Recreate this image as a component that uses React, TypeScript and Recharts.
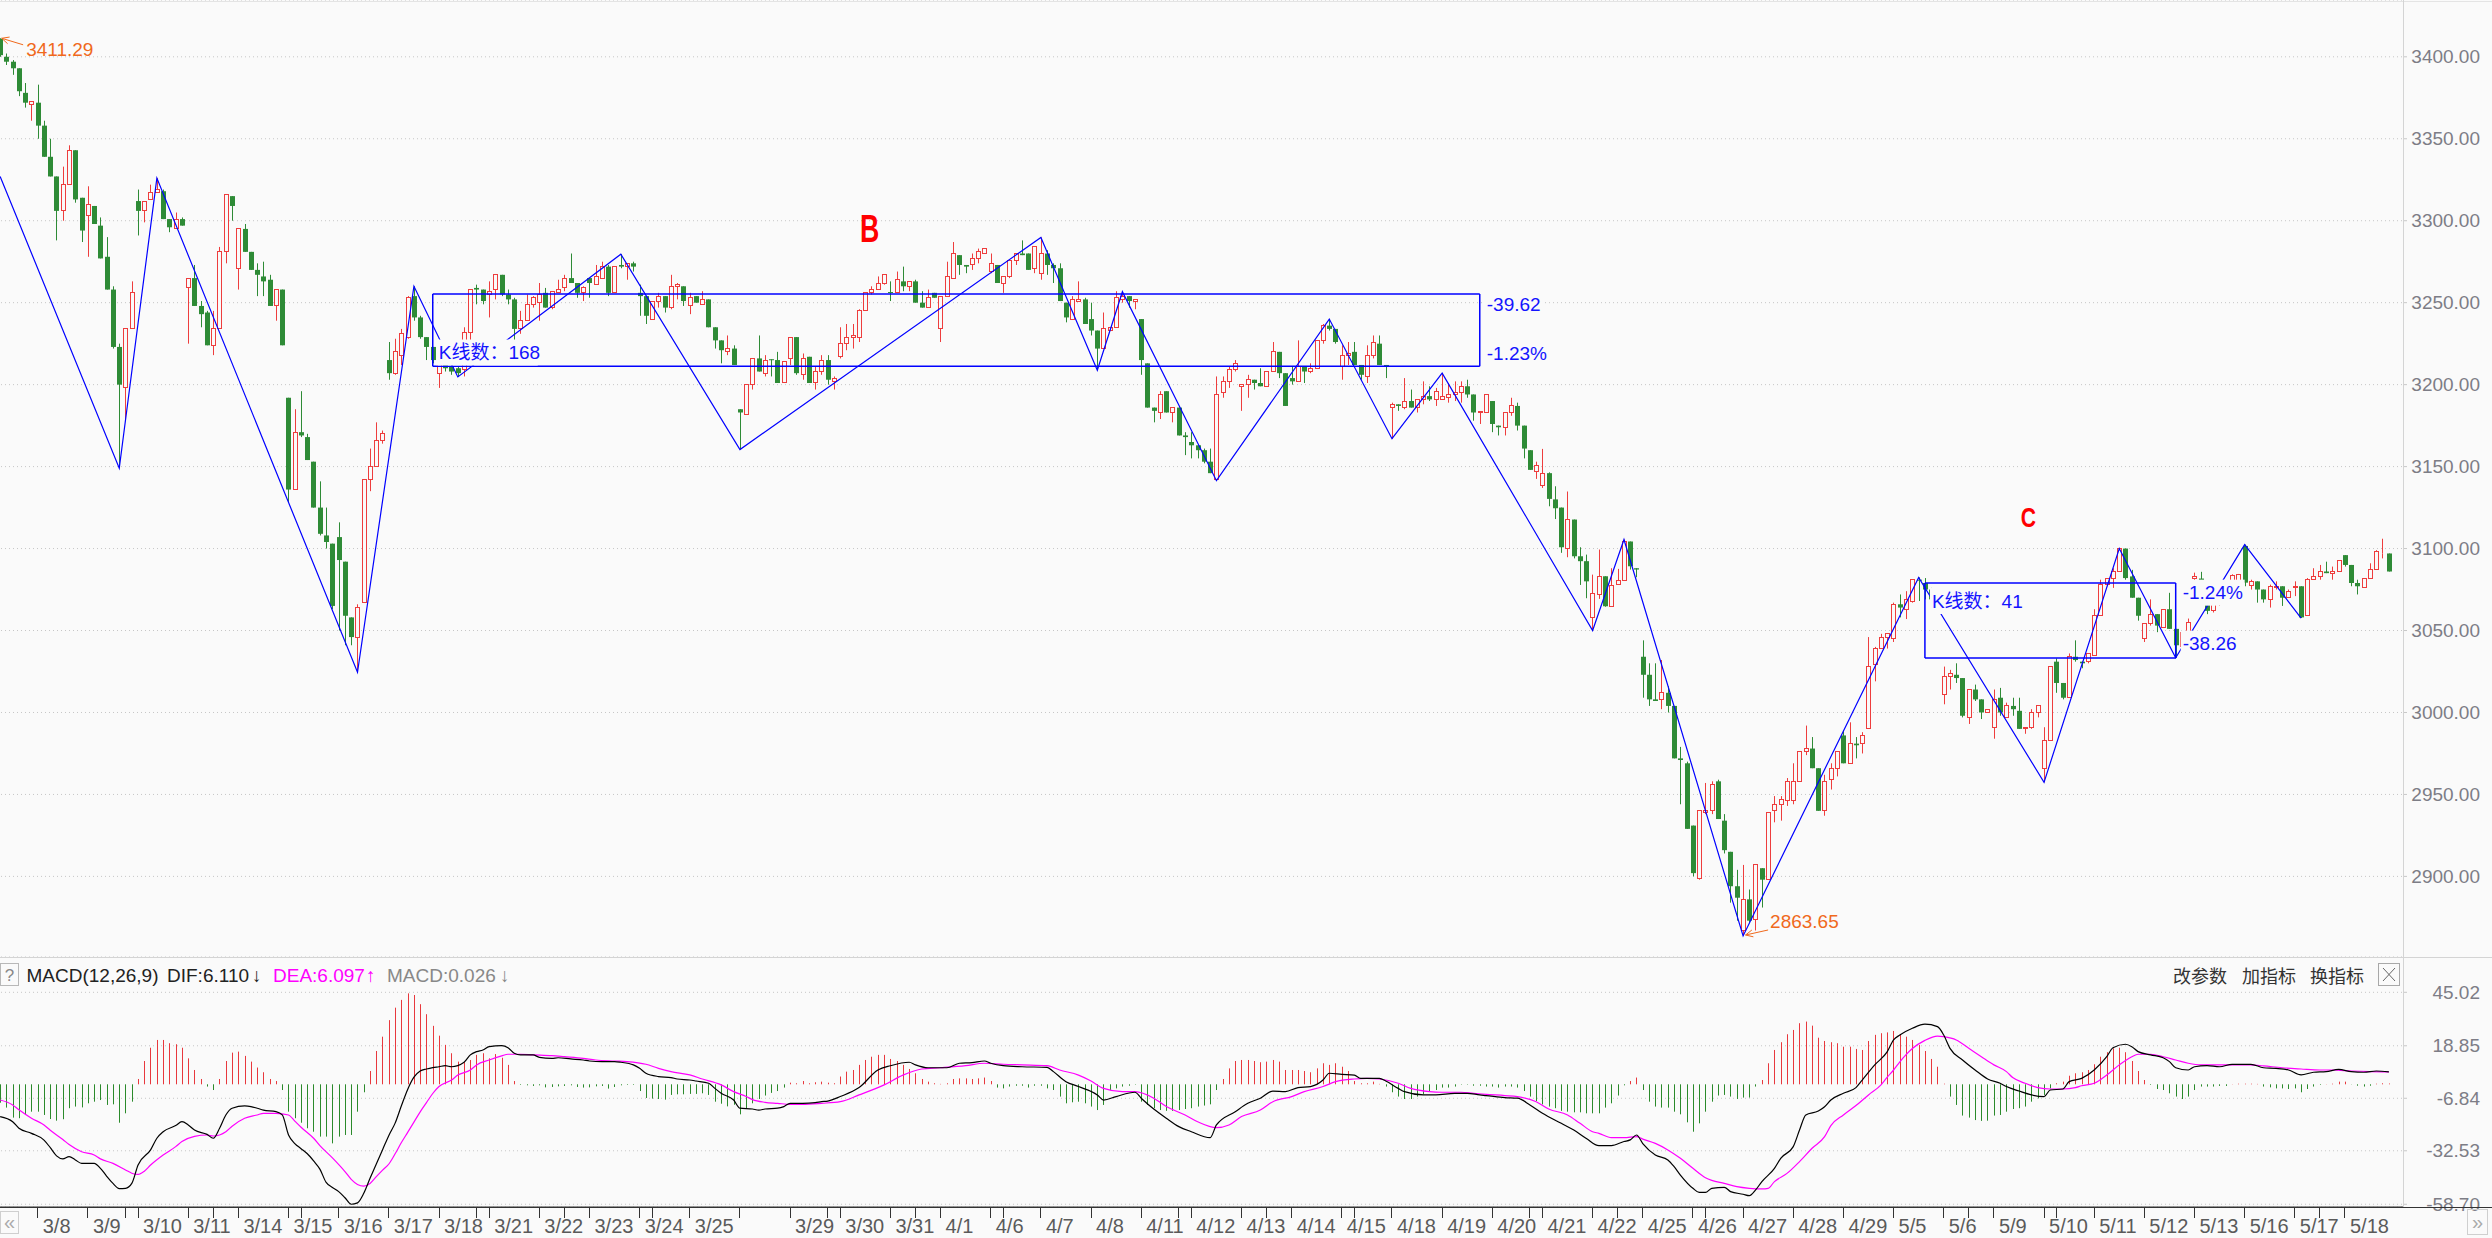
import React from 'react'
import {
  ComposedChart,
  Bar,
  Line,
  XAxis,
  YAxis,
  CartesianGrid,
  ReferenceLine,
  ReferenceDot,
} from 'recharts'

const W = 2495
const AXIS_W = 89
const PAD_R = 11
const BG = '#fafafa'
const UP = '#ee3d3d'
const DOWN = '#2e8b36'
const BLUE = '#0000ff'
const ORANGE = '#f0691c'
const FONT = '"Liberation Sans", Arial, "Noto Sans CJK SC", sans-serif'
const CJK = '"Noto Sans CJK SC", "Liberation Sans", sans-serif'

// 30 minute bars, 8 per day (only the last 6 bars of 3/7 are on screen)
const days = [
  '3/7', '3/8', '3/9', '3/10', '3/11', '3/14', '3/15', '3/16', '3/17', '3/18',
  '3/21', '3/22', '3/23', '3/24', '3/25', '3/28', '3/29', '3/30', '3/31', '4/1',
  '4/6', '4/7', '4/8', '4/11', '4/12', '4/13', '4/14', '4/15', '4/18', '4/19',
  '4/20', '4/21', '4/22', '4/25', '4/26', '4/27', '4/28', '4/29', '5/5', '5/6',
  '5/9', '5/10', '5/11', '5/12', '5/13', '5/16', '5/17', '5/18',
]
const hiddenDayLabels = ['3/28']
const minorTicks = [20, 34, 48, 76, 90, 104, 132, 146, 160, 188, 202, 216, 244, 258, 272, 314, 328, 370]

const opens = [
  3411, 3400, 3397, 3393, 3378, 3371,
  3372, 3358, 3339, 3327, 3306, 3322, 3343, 3314,
  3303, 3309, 3297, 3278, 3258, 3223, 3198, 3234,
  3312, 3306, 3313, 3317, 3318, 3301, 3295, 3301,
  3259, 3265, 3248, 3244, 3224, 3234, 3281, 3315,
  3271, 3295, 3281, 3270, 3266, 3264, 3248, 3258,
  3192, 3136, 3171, 3168, 3153, 3125, 3108, 3103,
  3107, 3092, 3058, 3046, 3067, 3142, 3150, 3166,
  3215, 3207, 3218, 3229, 3254, 3241, 3229, 3223,
  3207, 3216, 3211, 3210, 3209, 3232, 3259, 3258,
  3255, 3258, 3267, 3255, 3252, 3234, 3239, 3249,
  3250, 3256, 3247, 3256, 3259, 3265, 3262, 3256,
  3265, 3261, 3265, 3272, 3256, 3273, 3272, 3274,
  3256, 3254, 3240, 3251, 3254, 3247, 3260, 3260,
  3248, 3254, 3249, 3252, 3235, 3227, 3220, 3222,
  3185, 3182, 3200, 3216, 3207, 3215.5, 3215, 3201,
  3216, 3229, 3206, 3217, 3201, 3208, 3215, 3202,
  3217, 3225, 3229, 3229, 3245, 3256, 3258, 3262,
  3256.5, 3256, 3263, 3260, 3263, 3250, 3247, 3256,
  3234, 3254, 3265, 3279, 3273, 3273, 3277, 3280,
  3269, 3273, 3262, 3266, 3276, 3280, 3280, 3271,
  3268, 3280, 3273, 3271, 3250, 3240, 3251, 3252,
  3240, 3233, 3222, 3233, 3235, 3252, 3254, 3251,
  3240, 3213, 3186, 3183, 3196, 3183, 3186, 3169,
  3165, 3163, 3160, 3153, 3142, 3195, 3202, 3209,
  3199, 3200, 3203, 3201, 3199, 3208, 3220, 3207,
  3204, 3202, 3211, 3208, 3210, 3227, 3236, 3234,
  3211, 3218, 3220, 3212, 3205, 3218, 3225, 3212,
  3186, 3188, 3186, 3190, 3186, 3191, 3193, 3191,
  3191, 3192, 3194, 3195, 3199, 3194, 3183, 3183,
  3190, 3175, 3174, 3183, 3187, 3175, 3160, 3147,
  3138.4, 3146, 3130, 3125, 3099.8, 3117.7, 3095.3, 3092.3,
  3057.7, 3071.7, 3083.1, 3064.8, 3077.8, 3080.5, 3104.3, 3088,
  3034, 3023, 3008, 3008, 3012, 3004, 2972, 2969,
  2931, 2899, 2939, 2940, 2958, 2934, 2915, 2894,
  2867, 2886, 2874, 2905, 2898, 2940, 2944, 2946,
  2946, 2958, 2976, 2978, 2966, 2940, 2959, 2966,
  2986, 2969, 2981, 2981, 2990, 3029, 3039, 3046,
  3045, 3066, 3063, 3068, 3081, 3079, 3075, 3069,
  3011, 3022, 3023, 3021, 2997, 3014, 3008, 3000,
  2991, 3009, 2997, 3004, 3001, 2990, 2991, 3000,
  2966, 2983, 3031, 3018, 3009, 3034, 3031, 3031,
  3035, 3059, 3078, 3082, 3086, 3100, 3083, 3070,
  3045, 3054, 3060, 3052, 3063, 3051, 3040, 3048.3,
  3081.7, 3081.7, 3066, 3062, 3066, 3072, 3078.8, 3079,
  3101.6, 3077.7, 3080, 3075, 3069, 3076, 3077, 3070,
  3076, 3077, 3059, 3081, 3083, 3086, 3085, 3086,
  3096, 3090, 3079, 3076, 3082, 3087, 3097, 3097,
]

const highs = [
  3411.29, 3402, 3398, 3393, 3384, 3373,
  3383, 3361, 3350, 3327, 3333, 3346, 3343, 3314,
  3321, 3309, 3302, 3290, 3260, 3225, 3234, 3263,
  3319, 3312, 3322, 3326, 3319, 3301, 3305, 3302,
  3265, 3273, 3251, 3245, 3245, 3284, 3316, 3315,
  3295, 3298, 3281, 3274, 3275, 3267, 3258, 3258,
  3192, 3185, 3196, 3170, 3153, 3141, 3125, 3103,
  3116, 3092, 3058, 3066, 3142, 3161, 3177, 3172,
  3226, 3228, 3234, 3254, 3260, 3242, 3229, 3223,
  3219, 3217, 3213, 3211, 3235, 3258, 3261, 3258,
  3263, 3267, 3267, 3258, 3253, 3245, 3255, 3254,
  3262, 3259, 3257, 3264, 3267, 3280, 3262, 3260,
  3265, 3273, 3275, 3273, 3272, 3279.6, 3274, 3275,
  3261, 3254, 3251, 3256, 3254, 3267, 3262, 3260,
  3256, 3254, 3257, 3252, 3235, 3227, 3230, 3224,
  3185, 3200, 3216, 3230, 3218, 3215.5, 3220, 3214,
  3229, 3229, 3219, 3217, 3211, 3218, 3218, 3205,
  3235, 3237, 3237, 3246, 3256, 3260, 3266, 3267,
  3263, 3269, 3272, 3263, 3264, 3257, 3258, 3256,
  3254, 3275, 3287, 3279, 3273, 3280, 3283, 3283,
  3280, 3273, 3266, 3276, 3280, 3288, 3280, 3284,
  3289.8, 3282, 3274, 3274, 3250, 3254, 3263, 3253,
  3250, 3233, 3244, 3235, 3257, 3256.7, 3254, 3252,
  3240, 3213, 3186, 3196, 3196, 3186, 3186, 3171,
  3171, 3163, 3161, 3161, 3205, 3205, 3211, 3215,
  3200, 3206, 3203, 3210, 3208, 3226, 3220, 3207,
  3211, 3227, 3211, 3213, 3227, 3237, 3240, 3234,
  3224, 3226, 3226, 3212, 3224, 3230, 3230, 3212,
  3189, 3188, 3204, 3197, 3191, 3202, 3199, 3198,
  3207, 3201, 3202, 3202, 3203, 3194, 3183.5, 3194,
  3190, 3175, 3183, 3192, 3189, 3175, 3160, 3153,
  3160.8, 3146.5, 3138, 3125, 3134.8, 3117.7, 3100.8, 3096.3,
  3084.1, 3099.4, 3083.1, 3088, 3087.6, 3105.5, 3104.3, 3088,
  3044, 3030, 3030, 3032, 3016, 3004, 2979, 2970,
  2931, 2940, 2957, 2958, 2959, 2938, 2915, 2904,
  2907, 2892, 2907, 2905, 2939, 2949, 2949, 2960,
  2969, 2976, 2992, 2985, 2966, 2962, 2969, 2976,
  2989, 2994, 2985, 2988, 3046, 3040, 3048, 3048,
  3067, 3072, 3074, 3081, 3082.4, 3082, 3076, 3071,
  3028, 3026, 3030, 3021, 3014, 3017, 3008, 3002,
  3014, 3015, 3006, 3009, 3009, 2991, 3002, 3004,
  2991, 3028, 3033, 3018, 3036, 3044, 3031, 3036,
  3063, 3081, 3082, 3088, 3100, 3100, 3087, 3070,
  3054, 3069, 3060, 3063, 3073, 3051, 3049, 3057.3,
  3085.3, 3085.8, 3068, 3068, 3074, 3078, 3084.3, 3084.5,
  3102.4, 3081, 3080, 3075, 3078, 3080, 3077, 3075,
  3080, 3077, 3082, 3088, 3090, 3092, 3089, 3093,
  3096, 3090, 3081, 3082, 3091, 3099, 3106, 3097,
]

const lows = [
  3400, 3395, 3389, 3376, 3369, 3361,
  3350, 3339, 3327, 3288, 3300, 3322, 3311, 3287,
  3278, 3298, 3277, 3258, 3222, 3149, 3178, 3234,
  3291, 3299, 3313, 3317, 3301, 3293, 3295, 3297,
  3225, 3248, 3235, 3224, 3218, 3234, 3274, 3300,
  3258, 3281, 3270, 3254, 3254, 3248, 3239, 3224,
  3128, 3136, 3168, 3154, 3125, 3108, 3100, 3063,
  3050, 3041, 3041, 3024.5, 3067, 3135, 3150, 3164,
  3203, 3206, 3212, 3228, 3239, 3228, 3215, 3213,
  3198, 3208, 3206, 3204.7, 3205, 3227, 3249, 3249,
  3241, 3252, 3254, 3249, 3227, 3231, 3239, 3247,
  3239, 3247, 3246, 3256, 3257, 3262, 3253, 3251,
  3253, 3261, 3265, 3254, 3256, 3271, 3264, 3269,
  3242, 3237, 3240, 3247, 3244, 3246, 3252, 3248,
  3243, 3250, 3249, 3235, 3222, 3213, 3218, 3212,
  3160.4, 3182, 3197, 3208, 3205, 3205, 3201, 3201,
  3212, 3206, 3203, 3201, 3197, 3206, 3200, 3197,
  3216, 3221, 3222, 3226, 3245, 3255, 3258, 3261,
  3251, 3256, 3257, 3257, 3250, 3247, 3247, 3253,
  3226, 3254, 3265, 3267, 3268, 3270, 3274, 3280,
  3268, 3262, 3256, 3265, 3273, 3279, 3270, 3268,
  3264, 3267, 3262, 3251, 3238, 3240, 3251, 3237,
  3230, 3208.8, 3222, 3233, 3235, 3250, 3247, 3246,
  3206, 3186, 3177, 3179, 3183, 3177, 3169, 3157,
  3155, 3155, 3152, 3146, 3141.4, 3192, 3198, 3208,
  3184, 3192, 3197, 3199, 3199, 3208, 3204, 3187,
  3200, 3202, 3201, 3207, 3210, 3225, 3233, 3225,
  3203, 3212, 3212, 3203, 3201, 3216, 3212, 3204,
  3167, 3184, 3185, 3186, 3183, 3188, 3190, 3187,
  3191, 3189, 3190, 3189, 3192, 3178, 3176, 3183,
  3171, 3169, 3169, 3181, 3172, 3155, 3148, 3142.5,
  3137, 3125.8, 3118, 3097.4, 3094.7, 3094, 3077.8, 3069.7,
  3050, 3069.3, 3064.5, 3064.8, 3077.8, 3080.5, 3087.2, 3082.5,
  3009, 3004, 3007, 3002, 3000, 2972, 2944, 2929,
  2900, 2898, 2938, 2938, 2935, 2914, 2884, 2873,
  2863.65, 2872, 2867, 2881, 2898, 2933, 2934, 2943,
  2944, 2958, 2974, 2966, 2940, 2937, 2953, 2961,
  2969, 2969, 2972, 2975, 2990, 3019, 3039, 3039,
  3043, 3058, 3057, 3067, 3068, 3069, 3066, 3063,
  3005, 3014, 3018, 2997, 2993, 3007, 2996, 3000,
  2984, 2998, 2997, 2998, 2990, 2987, 2990, 2997,
  2957.4, 2983, 3012, 3008, 3009, 3031, 3027, 3030,
  3035, 3059, 3077, 3076, 3086, 3081, 3070, 3056,
  3043, 3053, 3049, 3052, 3051, 3033.4, 3040, 3048,
  3080.3, 3078.8, 3060, 3061, 3065, 3070, 3078.2, 3078,
  3077, 3075, 3067, 3067, 3064, 3075, 3065, 3070,
  3071, 3057.6, 3059, 3081, 3081, 3085, 3081, 3086,
  3089, 3077, 3072, 3076, 3082, 3087, 3094, 3086,
]

const closes = [
  3401, 3397, 3393, 3379, 3372, 3373,
  3358, 3339, 3327, 3306, 3322, 3343, 3313, 3294,
  3310, 3298, 3277, 3258, 3223, 3200, 3234, 3256,
  3306, 3312, 3317, 3319, 3301, 3296, 3301, 3297,
  3265, 3248, 3243, 3224, 3234, 3281, 3316, 3309,
  3295, 3281, 3270, 3267, 3263, 3248, 3258, 3224,
  3136, 3171, 3169, 3154, 3125, 3109, 3104, 3065,
  3093, 3059, 3046, 3064, 3142, 3150, 3166, 3170,
  3207, 3220, 3231, 3253, 3241, 3229, 3223, 3215,
  3218, 3210, 3208, 3207, 3232, 3258, 3258, 3251,
  3257, 3267, 3255, 3252, 3234, 3239, 3249, 3253,
  3255, 3247, 3257, 3258, 3265, 3262, 3256, 3259,
  3262, 3266, 3272, 3256, 3272, 3272, 3274, 3272,
  3254, 3242, 3251, 3254, 3247, 3260, 3261, 3251,
  3253, 3250, 3252, 3235, 3227, 3221, 3222, 3212,
  3183, 3200, 3216, 3208, 3215, 3215, 3201, 3214,
  3229, 3207, 3216, 3201, 3208, 3215, 3203, 3204,
  3225, 3229, 3230, 3245, 3256, 3258, 3262, 3267,
  3256, 3264, 3260, 3263, 3250, 3247, 3253, 3253,
  3254, 3266, 3280, 3273, 3272, 3277, 3281, 3283,
  3274, 3262, 3266, 3276, 3280, 3279, 3270, 3284,
  3280, 3273, 3271, 3251, 3241, 3252, 3252, 3237,
  3233, 3222, 3234, 3235, 3253, 3254, 3251, 3252,
  3215, 3186, 3184, 3194, 3183, 3186, 3169, 3168,
  3163, 3160, 3153, 3146, 3194, 3202, 3209, 3213,
  3200, 3203, 3201, 3199, 3208, 3220, 3207, 3187,
  3202, 3211, 3208, 3210, 3227, 3236, 3234, 3226,
  3218, 3219, 3212, 3206, 3218, 3226, 3212, 3211,
  3188, 3187, 3190, 3186, 3191, 3193, 3191, 3196,
  3193, 3194, 3195, 3199, 3194, 3183, 3183.5, 3194,
  3176, 3174, 3183, 3187, 3175, 3161, 3148, 3150.6,
  3146, 3130.3, 3124.6, 3100.8, 3117.7, 3095.3, 3092.3, 3080,
  3072.8, 3083.1, 3064.8, 3077.4, 3080.5, 3104.3, 3089.2, 3087.2,
  3023, 3008, 3007, 3012, 3004, 2972, 2971, 2929,
  2902, 2940, 2940, 2956, 2935, 2916, 2894, 2887,
  2886, 2873, 2907, 2898, 2939, 2944, 2947, 2958,
  2958, 2976, 2978, 2966, 2940, 2958, 2966, 2976,
  2969, 2981, 2980, 2986, 3028, 3039, 3046, 3048,
  3066, 3064, 3069, 3081, 3080.6, 3075, 3069, 3066,
  3022, 3024, 3021, 2998, 3014, 3008, 3000, 3002,
  3008, 3000, 3004, 3002, 2990, 2991, 3000, 3004,
  2983, 3028, 3018, 3009, 3034, 3032, 3030, 3036,
  3059, 3078, 3082, 3086, 3100, 3082, 3070, 3059,
  3054, 3060, 3053, 3063, 3051, 3041, 3049, 3054.8,
  3082.7, 3078.8, 3062, 3066, 3072, 3077, 3083.7, 3084,
  3079.2, 3079.6, 3075, 3069, 3077, 3077, 3070, 3074,
  3077, 3058, 3081, 3083, 3086, 3085, 3086, 3093,
  3090, 3079, 3077, 3082, 3087, 3098, 3097, 3086,
]

// zigzag pivots: [bar, price]
const zigzag: [number, number][] = [
  [0, 3327], [19, 3149], [25, 3326], [57, 3024.5], [66, 3260], [73, 3204.7],
  [99, 3279.6], [118, 3160.4], [166, 3289.8], [175, 3208.8], [179, 3256.7],
  [194, 3141.4], [212, 3240], [222, 3167], [230, 3207], [254, 3050],
  [259, 3105.5], [278, 2863.65], [306, 3082.4], [326, 2957.4], [338, 3100],
  [347, 3033.4], [358, 3102.4], [367, 3057.6],
]

const boxes = [
  { x1: 69, x2: 236, y1: 3211.2, y2: 3255.3 },
  { x1: 307, x2: 347, y1: 3033.2, y2: 3079 },
]
const boxLabels = [
  { x: 69, y: 3219.6, dx: 6, w: 97, text: 'K线数：168' },
  { x: 236, y: 3248.9, dx: 7, w: 54, text: '-39.62' },
  { x: 236, y: 3219.3, dx: 7, w: 59, text: '-1.23%' },
  { x: 307, y: 3068, dx: 7, w: 90, text: 'K线数：41' },
  { x: 347, y: 3073.1, dx: 7, w: 60, text: '-1.24%' },
  { x: 347, y: 3042, dx: 7, w: 54, text: '-38.26' },
]

const priceTicks = [2900, 2950, 3000, 3050, 3100, 3150, 3200, 3250, 3300, 3350, 3400]
const macdTicks = [-58.7, -32.53, -6.84, 18.85, 45.02]

const macdHist = [
  -9, -11.4, -16.3, -16.6, -15.0, -13.4,
  -13.4, -15.0, -17.0, -17.8, -17.1, -11.7, -10.9, -11.3,
  -9.3, -8.5, -7.7, -10.1, -9.8, -18.8, -14.2, -8.5,
  2.6, 11.4, 17.9, 21.7, 21.7, 20.1, 19.6, 17.9,
  12.7, 7.0, 2.6, -1.1, -2.8, 2.6, 11.4, 15.5,
  16.0, 13.9, 11.1, 8.2, 5.9, 2.6, 1.6, -2.8,
  -13.4, -16.6, -18.8, -21.5, -23.2, -25.6, -25.6, -28.9,
  -25.6, -24.8, -24.8, -13.4, -3.9, 6.5, 16.3, 23.3,
  31.4, 37.5, 41.3, 44.5, 43.7, 39.2, 34.3, 28.6,
  23.8, 19.3, 15.2, 11.1, 10.8, 11.9, 14.4, 15.2,
  12.7, 14.8, 13.0, 9.5, 1.6, -0.3, -0.5, -0.8,
  -0.5, -1.5, -1.3, -1.0, -0.8, -0.5, -1.3, -1.6,
  -1.5, -1.0, -0.8, -2.1, -1.3, -0.5, -0.3, -0.3,
  -3.3, -6.7, -7.0, -7.2, -7.5, -5.2, -4.9, -4.9,
  -4.7, -4.7, -4.4, -5.2, -8.5, -9.5, -10.8, -10.0,
  -14.7, -12.0, -9.3, -7.2, -5.5, -4.2, -3.3, -1.6,
  0.8, 0.5, 1.6, 0.5, 1.0, 1.3, 0.8, 0.5,
  3.8, 6.2, 7.0, 9.5, 11.9, 13.5, 14.4, 14.4,
  12.4, 11.4, 9.5, 7.5, 5.4, 2.6, 1.3, 0.5,
  0.2, 0.5, 2.6, 2.9, 2.9, 2.6, 2.9, 3.3,
  1.6, -1.6, -2.0, -1.1, -0.7, -0.7, -1.6, -0.7,
  -0.7, -2.0, -2.8, -6.0, -9.3, -8.8, -8.5, -9.3,
  -10.9, -12.6, -10.1, -2.8, -2.0, -1.1, -0.7, -0.2,
  -8.5, -10.1, -11.7, -12.6, -13.0, -13.0, -12.6, -12.1,
  -11.7, -10.9, -10.4, -9.8, -2.8, 2.6, 7.8, 11.4,
  11.9, 11.9, 11.4, 10.8, 11.1, 11.9, 11.1, 7.0,
  7.0, 7.0, 6.5, 5.9, 7.8, 10.3, 9.5, 10.3,
  8.6, 6.5, 1.6, 0.5, 0.5, 1.3, 0.2, -1.1,
  -3.9, -6.0, -7.2, -7.2, -6.0, -4.9, -3.6, -2.8,
  -1.6, -1.6, -1.1, -0.2, -0.2, -0.7, -0.7, -1.1,
  -1.1, -1.6, -1.1, -1.1, -1.6, -3.3, -6.0, -8.2,
  -9.8, -10.9, -11.7, -13.0, -13.4, -13.7, -13.7, -14.2,
  -14.2, -14.2, -11.4, -9.3, -5.5, -0.5, 1.6, 3.3,
  -2.8, -8.5, -10.9, -11.4, -11.4, -13.4, -14.7, -18.6,
  -23.2, -19.1, -13.4, -8.5, -5.5, -5.2, -6.0, -7.2,
  -6.5, -6.5, -1.1, 2.1, 10.3, 16.8, 20.6, 24.5,
  26.6, 29.9, 30.7, 28.7, 22.8, 21.2, 20.6, 20.1,
  18.4, 18.4, 17.3, 16.8, 21.2, 24.2, 25.0, 25.4,
  26.1, 24.5, 23.3, 21.7, 19.3, 16.3, 12.4, 8.6,
  0.3, -6.0, -10.1, -15.3, -16.3, -17.5, -17.9, -17.8,
  -15.3, -15.0, -13.4, -12.1, -11.7, -10.9, -8.5, -6.9,
  -5.2, -2.0, 0.5, 1.3, 4.2, 5.4, 5.9, 7.0,
  9.8, 13.5, 15.7, 17.6, 17.9, 15.7, 11.4, 6.5,
  2.1, -0.3, -2.3, -2.8, -4.4, -6.0, -7.2, -6.0,
  -2.8, -1.1, -1.1, -1.1, -0.8, -0.8, 0.1, 0.3,
  0.3, 0.3, 0.2, -1.1, -1.5, -2.0, -2.0, -2.3,
  -2.0, -3.9, -2.3, -1.1, -0.3, 0.1, 0.3, 1.3,
  1.3, -0.1, -0.7, -1.1, -0.7, 0.3, 0.5, 0.4,
]

// DIF / DEA: [bar, value]
const difPoints: [number, number][] = [
  [0, -15.8], [2, -18.3], [3, -21.5], [5, -24], [7, -27.3], [8, -31], [9, -35], [10, -36.5],
  [11, -35.4], [12, -37], [13, -38.7], [15, -38.7], [16, -41.1], [17, -45], [18, -48.5], [19, -51],
  [20, -50.9], [21, -48.5], [22, -39.5], [24, -32.1], [25, -26.4], [26, -23.2], [28, -20.2],
  [29, -18.3], [30, -19.9], [31, -22.4], [33, -24.5], [34, -26.4], [35, -21.5], [36, -15],
  [37, -11.7], [39, -10.6], [40, -10.9], [41, -11.7], [42, -12.6], [44, -13.4], [45, -15],
  [46, -24.8], [47, -29], [48, -31.5], [49, -34], [50, -37.5], [51, -41.5], [52, -48], [53, -50.5],
  [54, -52.5], [55, -55.5], [56, -58.7], [57, -58], [58, -53.3], [59, -46], [60, -39], [61, -32],
  [62, -25], [63, -19], [64, -10.5], [65, -2.5], [66, 3.5], [67, 6.5], [68, 7.5], [69, 8.2],
  [70, 8.6], [71, 9.1], [72, 8.6], [74, 10.8], [75, 14.4], [76, 16], [77, 16.8], [78, 18.4],
  [80, 18.9], [81, 17.9], [82, 15.2], [83, 14.4], [85, 14.4], [86, 13.2], [88, 12.7], [89, 13],
  [91, 12.4], [93, 11.9], [94, 11.4], [96, 11.1], [98, 11.1], [99, 10.8], [101, 9.5], [102, 7.8],
  [103, 5.4], [105, 3.8], [107, 3.3], [108, 2.6], [110, 2.1], [111, 1.6], [113, 0.5], [114, -2],
  [115, -4.4], [117, -7.7], [118, -11.7], [120, -12.1], [121, -12.6], [122, -12.1], [124, -11.7],
  [125, -10.9], [126, -9.3], [128, -9.3], [130, -9], [131, -8.5], [132, -8.2], [134, -6],
  [137, -1.6], [140, 7], [142, 9.1], [145, 10.8], [146, 9.5], [148, 8.1], [151, 8.1], [153, 10.3],
  [155, 10.6], [157, 11.4], [158, 10.3], [160, 9.1], [163, 8.6], [167, 8.3], [168, 6.2], [170, 1.3],
  [172, -1.1], [175, -5.2], [176, -7.7], [178, -6], [181, -3.9], [182, -6.8], [184, -12.1],
  [186, -16.6], [188, -20.7], [190, -23.2], [193, -26.1], [194, -19.9], [197, -13.4], [199, -9.3],
  [201, -6.8], [203, -3.3], [205, -3.6], [207, -1.6], [209, -1.1], [211, 2.1], [212, 5.4],
  [214, 4.9], [216, 4.5], [217, 2.9], [220, 2.9], [221, 1.6], [223, -2], [224, -3.6], [227, -5.2],
  [229, -5.2], [232, -4.4], [234, -4.4], [236, -5.2], [237, -5.5], [240, -6.5], [242, -6.8],
  [244, -10.1], [246, -14.2], [249, -19.1], [251, -22.4], [253, -26.5], [255, -30], [257, -30],
  [259, -28], [260, -27.2], [261, -24.8], [262, -29], [264, -34.6], [266, -37], [267, -40.3],
  [268, -44.4], [270, -50.9], [271, -52.9], [272, -52.9], [273, -50.9], [275, -50.4], [276, -52.5],
  [278, -53.8], [279, -54.5], [280, -51.7], [281, -47.6], [283, -41.1], [284, -36.2], [286, -30.5],
  [287, -22.4], [288, -15], [290, -13.1], [291, -11], [292, -7.7], [294, -4.4], [296, -1.6],
  [297, 2.1], [299, 9.5], [301, 16], [302, 21.7], [303, 24.1], [305, 27.4], [307, 29.4],
  [309, 28.2], [310, 24.1], [311, 17.6], [313, 11.9], [315, 7], [317, 2.6], [319, 0.5],
  [320, -1.1], [322, -3.3], [324, -5.2], [326, -6], [327, -2.8], [329, -2.3], [330, 1.3],
  [332, 2.9], [334, 7], [336, 13.5], [337, 17.9], [339, 19.6], [340, 18.4], [341, 16], [343, 14.4],
  [345, 13], [346, 11.1], [347, 8.1], [349, 7], [350, 8.6], [352, 9.1], [354, 8.6], [356, 9.8],
  [359, 9.8], [361, 8.1], [363, 7.8], [365, 7], [367, 4.6], [369, 5.9], [371, 6.2], [373, 7.3],
  [375, 6.2], [377, 5.9], [379, 6.5], [381, 6.11],
]

const deaPoints: [number, number][] = [
  [0, -7.7], [2, -10.1], [3, -12.5], [5, -16.6], [7, -19.9], [8, -22.5], [10, -27], [11, -29.5],
  [13, -33], [15, -34.6], [16, -36.5], [18, -38.7], [20, -41.9], [21, -43.5], [22, -44.1],
  [23, -42.5], [24, -39.5], [26, -34.6], [28, -30.5], [29, -28], [31, -25.5], [33, -24.8],
  [34, -25.3], [36, -23.2], [37, -20.5], [39, -16.6], [41, -15], [42, -14.2], [44, -14.2],
  [46, -15], [47, -18], [48, -21], [50, -26.4], [51, -30], [53, -36], [55, -42.7], [56, -46.5],
  [57, -49], [58, -49.8], [59, -48.5], [60, -45.2], [61, -42], [62, -39], [63, -34], [64, -28.5],
  [65, -23.5], [66, -18.5], [67, -13.5], [68, -9], [69, -4.5], [70, -1.1], [72, 2.1], [73, 4.5],
  [75, 7], [76, 9.5], [78, 11.9], [80, 13.9], [81, 14.7], [83, 14.7], [85, 14.4], [88, 14],
  [90, 13.5], [93, 12.7], [95, 11.9], [98, 11.4], [100, 11.1], [103, 9.8], [105, 7.8], [107, 6.2],
  [110, 4.6], [112, 2.6], [115, -0.3], [117, -3.6], [119, -6], [120, -7.5], [122, -8.8],
  [124, -9.3], [126, -9.8], [128, -9.8], [131, -9.3], [134, -8.5], [137, -5.2], [141, -0.3],
  [144, 4.5], [147, 7.5], [150, 8.1], [154, 9.1], [157, 10.3], [160, 9.8], [163, 9.5], [167, 9.1],
  [169, 7], [172, 4.5], [174, 1.6], [176, -2], [179, -3.6], [181, -3.6], [184, -6.8], [186, -10.9],
  [189, -15], [191, -18.3], [194, -21.2], [196, -19.9], [198, -15.8], [201, -12.6], [203, -8.5],
  [206, -6], [208, -3.6], [211, -1.1], [213, 1.3], [216, 2.6], [218, 2.9], [220, 2.6], [223, 0.5],
  [225, -2], [228, -3.6], [230, -3.9], [233, -3.9], [235, -4.4], [237, -4.9], [240, -5.5],
  [242, -6], [245, -8.5], [247, -12.1], [250, -15], [252, -19.1], [254, -23.2], [255, -24],
  [257, -26.1], [259, -26.1], [261, -25.6], [262, -26.8], [264, -28.9], [266, -32.1], [268, -36.2],
  [270, -41.1], [272, -45.7], [273, -47], [275, -48.5], [277, -50.1], [279, -50.9], [281, -51.2],
  [282, -50.9], [283, -47.6], [285, -43.6], [287, -37.8], [289, -31.3], [291, -25.6], [292, -20.2],
  [294, -15], [296, -10.4], [298, -5.2], [300, -0.3], [301, 3.5], [302, 7], [303, 11], [304, 14.5],
  [305, 17.5], [307, 21.5], [309, 23.6], [310, 23.3], [312, 21.7], [314, 17.6], [316, 13.5],
  [318, 9.5], [320, 6.2], [321, 3.3], [323, 0.5], [325, -1.6], [327, -2.3], [329, -2.3],
  [331, -1.6], [332, -0.7], [334, 0.5], [336, 4.5], [338, 9.5], [340, 13.5], [341, 14.7],
  [343, 14.7], [345, 13.5], [347, 11.9], [349, 10.3], [351, 9.5], [353, 9.5], [356, 9.5],
  [359, 9.5], [361, 9], [364, 8.1], [367, 7.5], [370, 7], [372, 7], [375, 6.5], [378, 6.2],
  [381, 6.097],
]

// ---- tables built from the arrays above ----
const barDay: string[] = []
const dayStart = new Map<number, string>()
days.forEach((d, k) => {
  const n = k === 0 ? 6 : 8
  if (k > 0) dayStart.set(barDay.length, d)
  for (let j = 0; j < n; j++) barDay.push(d)
})
const xTicks = [...dayStart.keys(), ...minorTicks].sort((a, b) => a - b)

const zigMap = new Map(zigzag)
const difMap = new Map(difPoints)
const deaMap = new Map(deaPoints)

const priceData = barDay.map((day, i) => ({
  i,
  day,
  o: opens[i],
  h: highs[i],
  l: lows[i],
  c: closes[i],
  range: [lows[i], highs[i]],
  zig: zigMap.has(i) ? zigMap.get(i) : null,
}))

const macdData = barDay.map((day, i) => ({
  i,
  day,
  hist: macdHist[i],
  dif: difMap.has(i) ? difMap.get(i) : null,
  dea: deaMap.has(i) ? deaMap.get(i) : null,
}))

const snap = (v: number) => Math.round(v - 0.5) + 0.5

function Candle(props: any) {
  const { x, y, width, height, payload } = props
  if (x == null || y == null || !payload) return null
  const top = Math.min(y, y + height)
  const h = Math.abs(height)
  const { o, c } = payload
  const hi = payload.h
  const lo = payload.l
  const span = hi - lo
  const py = (p: number) => (span > 0 ? top + ((hi - p) / span) * h : top)
  const cx = snap(x + width / 2)
  const bodyTop = py(Math.max(o, c))
  const bodyBot = py(Math.min(o, c))
  if (c >= o) {
    const t = snap(bodyTop)
    const b = Math.max(snap(bodyBot), t)
    return (
      <g>
        {t > top && <line x1={cx} x2={cx} y1={top} y2={t} stroke={UP} />}
        {top + h > b && <line x1={cx} x2={cx} y1={b} y2={top + h} stroke={UP} />}
        <rect x={cx - 2} y={t} width={4} height={b - t} fill={BG} stroke={UP} />
      </g>
    )
  }
  return (
    <g>
      <line x1={cx} x2={cx} y1={top} y2={top + h} stroke={DOWN} />
      <rect x={cx - 2.5} y={bodyTop} width={5} height={Math.max(bodyBot - bodyTop, 1)} fill={DOWN} />
    </g>
  )
}

function HistBar(props: any) {
  const { x, y, width, height, payload } = props
  if (x == null || y == null || !payload) return null
  const cx = snap(x + width / 2)
  return (
    <line
      x1={cx}
      x2={cx}
      y1={y}
      y2={y + height}
      stroke={payload.hist >= 0 ? '#e8383d' : '#2b8a2b'}
    />
  )
}

function RightTick(props: any) {
  const { y, payload } = props
  return (
    <text
      x={W - 12}
      y={y}
      textAnchor="end"
      dominantBaseline="central"
      fontSize={19}
      fontFamily={FONT}
      fill="#7d7d86"
    >
      {Number(payload.value).toFixed(2)}
    </text>
  )
}

function DateTick(props: any) {
  const { x, y, payload } = props
  const label = dayStart.get(payload.value)
  const cx = snap(x)
  return (
    <g>
      <line x1={cx} x2={cx} y1={y} y2={y + 11} stroke="#333" />
      {label && !hiddenDayLabels.includes(label) && (
        <text
          x={x + 5}
          y={y + 19}
          dominantBaseline="central"
          fontSize={20}
          fontFamily={FONT}
          fill="#5a5a5a"
        >
          {label}
        </text>
      )}
    </g>
  )
}

function BoxText(props: any) {
  const { cx, cy, text, dx, w } = props
  if (cx == null || cy == null) return null
  return (
    <g>
      <rect x={cx + dx - 2} y={cy - 13} width={w + 4} height={26} fill={BG} />
      <text
        x={cx + dx}
        y={cy}
        dominantBaseline="central"
        fontSize={19}
        fontFamily={FONT}
        fill="#1414ff"
      >
        {text}
      </text>
    </g>
  )
}

function PeakLabel(props: any) {
  const { cx, cy, text, tip, tail, at } = props
  if (cx == null || cy == null) return null
  const x1 = cx + tip[0]
  const y1 = cy + tip[1]
  const x2 = cx + tail[0]
  const y2 = cy + tail[1]
  const ang = Math.atan2(y2 - y1, x2 - x1)
  const hl = 8
  const a1 = ang + 0.45
  const a2 = ang - 0.45
  return (
    <g stroke={ORANGE} strokeWidth={1}>
      <line x1={x1} y1={y1} x2={x2} y2={y2} />
      <line x1={x1} y1={y1} x2={x1 + hl * Math.cos(a1)} y2={y1 + hl * Math.sin(a1)} />
      <line x1={x1} y1={y1} x2={x1 + hl * Math.cos(a2)} y2={y1 + hl * Math.sin(a2)} />
      <text
        x={cx + at[0]}
        y={cy + at[1]}
        dominantBaseline="central"
        fontSize={19}
        fontFamily={FONT}
        fill={ORANGE}
        stroke="none"
      >
        {text}
      </text>
    </g>
  )
}

function boxSegments() {
  const out: any[] = []
  boxes.forEach((b, k) => {
    const segs = [
      [b.x1, b.y2, b.x2, b.y2],
      [b.x1, b.y1, b.x2, b.y1],
      [b.x1, b.y1, b.x1, b.y2],
      [b.x2, b.y1, b.x2, b.y2],
    ]
    segs.forEach((s, j) => {
      out.push(
        <ReferenceLine
          key={`box-${k}-${j}`}
          segment={[{ x: s[0], y: s[1] }, { x: s[2], y: s[3] }]}
          stroke={BLUE}
          strokeWidth={1.5}
          ifOverflow="visible"
        />
      )
    })
  })
  return out
}

export default function App() {
  return (
    <div
      style={{
        position: 'absolute',
        left: 0,
        top: 0,
        width: 2492,
        height: 1238,
        background: BG,
        overflow: 'hidden',
        fontFamily: FONT,
      }}
    >
      {/* price panel */}
      <div style={{ position: 'absolute', left: -3, top: 0 }}>
        <ComposedChart
          width={W}
          height={957}
          data={priceData}
          margin={{ top: 0, right: 0, bottom: 0, left: 0 }}
        >
          <CartesianGrid vertical={false} stroke="#c6c6c6" strokeDasharray="1 3" />
          <XAxis dataKey="i" type="category" hide padding={{ left: 0, right: PAD_R }} />
          <YAxis
            orientation="right"
            width={AXIS_W}
            domain={[2850.83, 3434.65]}
            ticks={priceTicks}
            interval={0}
            allowDataOverflow
            axisLine={false}
            tickSize={4}
            tickLine={{ stroke: '#c8c8c8' }}
            tick={RightTick}
          />
          <Bar dataKey="range" shape={Candle} barSize={5} isAnimationActive={false} />
          <Line
            dataKey="zig"
            type="linear"
            connectNulls
            stroke={BLUE}
            strokeWidth={1.2}
            dot={false}
            activeDot={false}
            isAnimationActive={false}
          />
          {boxSegments()}
          {boxLabels.map((lb, k) => (
            <ReferenceDot
              key={`lb-${k}`}
              x={lb.x}
              y={lb.y}
              r={0}
              ifOverflow="visible"
              shape={(p: any) => <BoxText cx={p.cx} cy={p.cy} text={lb.text} dx={lb.dx} w={lb.w} />}
            />
          ))}
          <ReferenceDot
            x={0}
            y={3411.29}
            r={0}
            ifOverflow="visible"
            shape={(p: any) => (
              <PeakLabel cx={p.cx} cy={p.cy} text="3411.29" tip={[1.6, 0]} tail={[23, 6.5]} at={[26, 11]} />
            )}
          />
          <ReferenceDot
            x={278}
            y={2863.65}
            r={0}
            ifOverflow="visible"
            shape={(p: any) => (
              <PeakLabel cx={p.cx} cy={p.cy} text="2863.65" tip={[2.5, -1]} tail={[25, -6]} at={[27, -14]} />
            )}
          />
        </ComposedChart>
      </div>

      {/* MACD panel */}
      <div style={{ position: 'absolute', left: -3, top: 958 }}>
        <ComposedChart
          width={W}
          height={280}
          data={macdData}
          margin={{ top: 34.3, right: 0, bottom: 0, left: 0 }}
        >
          <CartesianGrid vertical={false} stroke="#c6c6c6" strokeDasharray="1 3" />
          <XAxis
            dataKey="i"
            type="category"
            padding={{ left: 0, right: PAD_R }}
            height={31}
            ticks={xTicks}
            interval={0}
            tickSize={0}
            tickMargin={0}
            tickLine={false}
            axisLine={{ stroke: '#333' }}
            tick={DateTick}
          />
          <YAxis
            orientation="right"
            width={AXIS_W}
            domain={[-60.04, 45.02]}
            ticks={macdTicks}
            interval={0}
            allowDataOverflow
            axisLine={false}
            tickSize={4}
            tickLine={{ stroke: '#c8c8c8' }}
            tick={RightTick}
          />
          <Bar dataKey="hist" shape={HistBar} barSize={1} isAnimationActive={false} />
          <Line
            dataKey="dea"
            type="monotone"
            connectNulls
            stroke="#ff00ff"
            strokeWidth={1.2}
            dot={false}
            activeDot={false}
            isAnimationActive={false}
          />
          <Line
            dataKey="dif"
            type="monotone"
            connectNulls
            stroke="#000000"
            strokeWidth={1.2}
            dot={false}
            activeDot={false}
            isAnimationActive={false}
          />
        </ComposedChart>
      </div>

      {/* frame, headers and annotations */}
      <svg
        width={2492}
        height={1238}
        style={{ position: 'absolute', left: 0, top: 0, pointerEvents: 'none' }}
        fontFamily={FONT}
      >
        <line x1={0} x2={2492} y1={1.5} y2={1.5} stroke="#e4e4e4" />
        <line x1={0} x2={2492} y1={957.5} y2={957.5} stroke="#d4d4d4" />
        <line x1={2403.5} x2={2403.5} y1={0} y2={1207} stroke="#d4d4d4" />
        <line x1={0} x2={2492} y1={1207.5} y2={1207.5} stroke="#333" />

        <text x={860} y={241.7} fontSize={39} fontWeight="bold" fill="#ff0000" textLength={19.3} lengthAdjust="spacingAndGlyphs">B</text>
        <text x={2020.7} y={526.7} fontSize={28} fontWeight="bold" fill="#ff0000" textLength={15.3} lengthAdjust="spacingAndGlyphs">C</text>

        <rect x={0.5} y={963.5} width={18} height={22} fill="none" stroke="#b8b8b8" />
        <text x={9.5} y={975} textAnchor="middle" dominantBaseline="central" fontSize={17} fill="#888">?</text>
        <text x={26.5} y={975} dominantBaseline="central" fontSize={19} fill="#222">MACD(12,26,9)</text>
        <text x={167} y={975} dominantBaseline="central" fontSize={19} fill="#222">DIF:6.110</text>
        <text x={252} y={975} dominantBaseline="central" fontSize={19} fill="#222">↓</text>
        <text x={273} y={975} dominantBaseline="central" fontSize={19} fill="#ff00ff">DEA:6.097</text>
        <text x={366} y={975} dominantBaseline="central" fontSize={19} fill="#ff00ff">↑</text>
        <text x={387} y={975} dominantBaseline="central" fontSize={19} fill="#888">MACD:0.026</text>
        <text x={500} y={975} dominantBaseline="central" fontSize={19} fill="#888">↓</text>

        <text x={2173} y={975} dominantBaseline="central" fontSize={18} fontFamily={CJK} fill="#333">改参数</text>
        <text x={2242} y={975} dominantBaseline="central" fontSize={18} fontFamily={CJK} fill="#333">加指标</text>
        <text x={2310} y={975} dominantBaseline="central" fontSize={18} fontFamily={CJK} fill="#333">换指标</text>
        <rect x={2378.5} y={963.5} width={21} height={22} fill="none" stroke="#a8a8a8" />
        <line x1={2383} y1={968} x2={2395} y2={981} stroke="#666" />
        <line x1={2395} y1={968} x2={2383} y2={981} stroke="#666" />

        <rect x={0.5} y={1211.5} width={18} height={22} fill="none" stroke="#cfcfcf" />
        <text x={9.5} y={1222} textAnchor="middle" dominantBaseline="central" fontSize={20} fill="#aaa">«</text>
        <rect x={2467.5} y={1209.5} width={20} height={25} fill="none" stroke="#cfcfcf" />
        <text x={2477.5} y={1222} textAnchor="middle" dominantBaseline="central" fontSize={20} fill="#aaa">»</text>
      </svg>
    </div>
  )
}
